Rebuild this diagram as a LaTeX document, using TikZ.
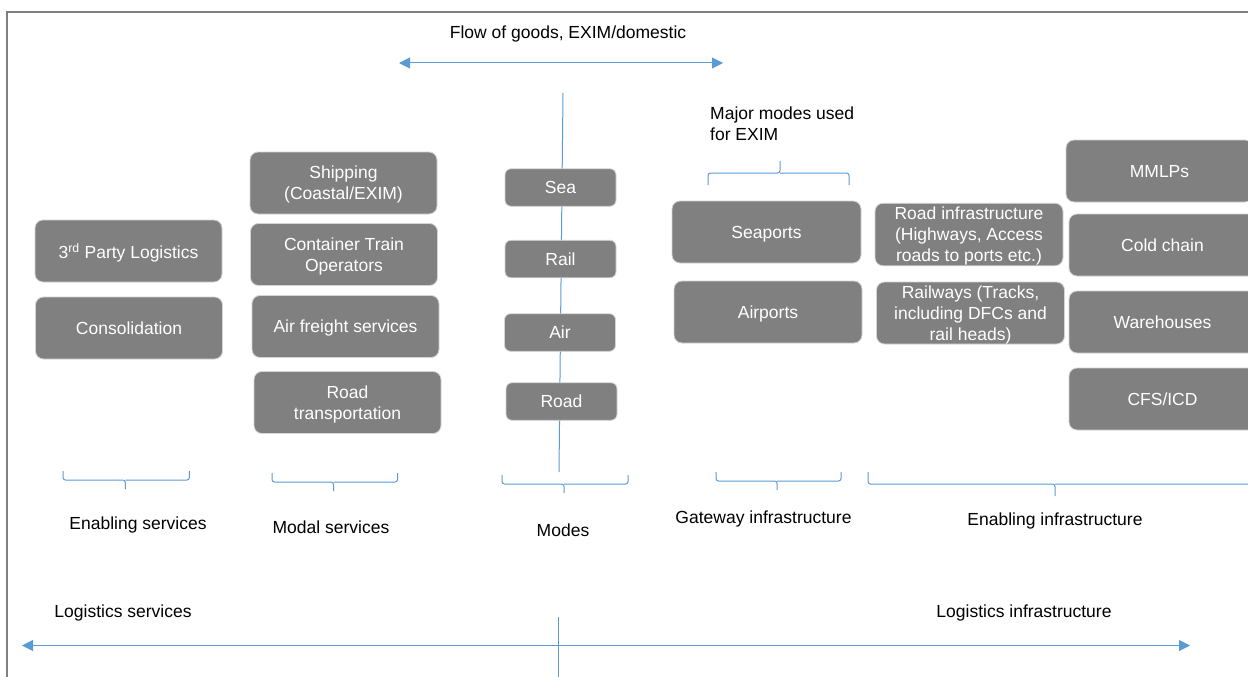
\documentclass[tikz,border=0pt]{standalone}
\usepackage{fontspec}
\setmainfont{Liberation Sans}
\usetikzlibrary{arrows.meta}
\definecolor{boxgray}{HTML}{808080}
\definecolor{edgegray}{HTML}{D4D4D4}
\definecolor{lineblue}{HTML}{5B9BD5}
\definecolor{framegray}{HTML}{7F7F7F}
\begin{document}
\begin{tikzpicture}[x=1pt,y=-1pt,
 box/.style={draw=edgegray, line width=0.8pt, fill=boxgray, rounded corners=8pt, text=white, align=center, inner sep=0pt, minimum width=187pt, minimum height=62pt, text depth=0pt, font=\fontsize{17.5}{21}\selectfont},
 modebox/.style={box, minimum width=111pt, minimum height=37.5pt, rounded corners=6pt},
 lbl/.style={text=black, font=\fontsize{17.5}{21}\selectfont, inner sep=0pt, yshift=-2pt},
 bline/.style={draw=lineblue, line width=1pt},
 brace/.style={bline, rounded corners=2.5pt},
 dblarrow/.style={bline, {Triangle[length=11pt,width=11pt]}-{Triangle[length=11pt,width=11pt]}},
]
\useasboundingbox (0,0) rectangle (1248,677);
\clip (0,0) rectangle (1248,677);
\fill[white] (0,0) rectangle (1248,677);

% frame
\draw[framegray, line width=1.5pt] (7,700) -- (7,12) -- (1270,12);

% top flow arrow
\node[lbl] (flow) at (568,31.5) {Flow of goods, EXIM/domestic};
\coordinate (fl) at (399,63);
\coordinate (fr) at (723,63);
\draw[dblarrow] (fl) -- (fr);

% modes vertical line
\coordinate (mt) at (563,93);
\coordinate (mb) at (559,472);
\draw[bline] (mt) -- (mb);

% enabling services
\node[box] (tpl) at (128.5,251) {3\textsuperscript{rd} Party Logistics};
\node[box] (cons) at (129,328) {Consolidation};

% modal services
\node[box] (ship) at (343.5,183) {Shipping\\(Coastal/EXIM)};
\node[box] (cto) at (344,254.5) {Container Train\\Operators};
\node[box] (afs) at (345.5,326.5) {Air freight services};
\node[box] (rt) at (347.5,402.5) {Road\\transportation};

% modes
\node[modebox] (sea) at (560.5,187.5) {Sea};
\node[modebox] (rail) at (560.5,259) {Rail};
\node[modebox] (air) at (560,332.5) {Air};
\node[modebox] (road) at (561.5,401.5) {Road};

% gateway
\node[lbl, anchor=west, align=left] (major) at (710,121.5) {Major modes used\\for EXIM};
\node[box, minimum width=189pt] (seap) at (766.5,232) {Seaports};
\node[box, minimum width=188pt] (airp) at (768,312) {Airports};

% enabling infrastructure
\node[box, minimum width=188pt, minimum height=62.5pt] (roadinf) at (969,234.5) {Road infrastructure\\(Highways, Access\\roads to ports etc.)};
\node[box, minimum width=188pt] (railw) at (970.5,313) {Railways (Tracks,\\including DFCs and\\rail heads)};
\node[box] (mmlp) at (1159.5,171) {MMLPs};
\node[box] (cold) at (1162.5,245) {Cold chain};
\node[box] (ware) at (1162.5,322) {Warehouses};
\node[box] (cfs) at (1162.5,399) {CFS/ICD};

% top brace (Major modes)
\draw[brace] (708,185) -- (708,173) -- (780,173) -- (780,161);
\draw[brace] (849,185) -- (849,173) -- (780,173);

% bottom braces
\draw[brace] (63,471) -- (63,480) -- (125.3,480) -- (125.3,489);
\draw[brace] (189.4,471) -- (189.4,480) -- (125.3,480);
\draw[brace] (272,473) -- (272,482) -- (333.5,482) -- (333.5,491);
\draw[brace] (397.5,473) -- (397.5,482) -- (333.5,482);
\draw[brace] (502,475) -- (502,484) -- (564,484) -- (564,493);
\draw[brace] (628,475) -- (628,484) -- (564,484);
\draw[brace] (716,472) -- (716,481) -- (777,481) -- (777,490);
\draw[brace] (841,472) -- (841,481) -- (777,481);
\draw[brace] (868,472) -- (868,484) -- (1055,484) -- (1055,496);
\draw[brace] (1256,472) -- (1256,484) -- (1055,484);

% group labels
\node[lbl] (les) at (138,523) {Enabling services};
\node[lbl] (mos) at (331,525) {Modal services};
\node[lbl] (mod) at (563,528) {Modes};
\node[lbl] (gwi) at (763.5,517) {Gateway infrastructure};
\node[lbl] (eni) at (1055,519) {Enabling infrastructure};

% bottom
\node[lbl] (lsv) at (123,611) {Logistics services};
\node[lbl] (lin) at (1024,611) {Logistics infrastructure};
\coordinate (bl) at (22,645.5);
\coordinate (br) at (1190,645.5);
\draw[dblarrow] (bl) -- (br);
\coordinate (vt) at (558,617);
\coordinate (vb) at (558,690);
\draw[bline] (vt) -- (vb);
\end{tikzpicture}
\end{document}
